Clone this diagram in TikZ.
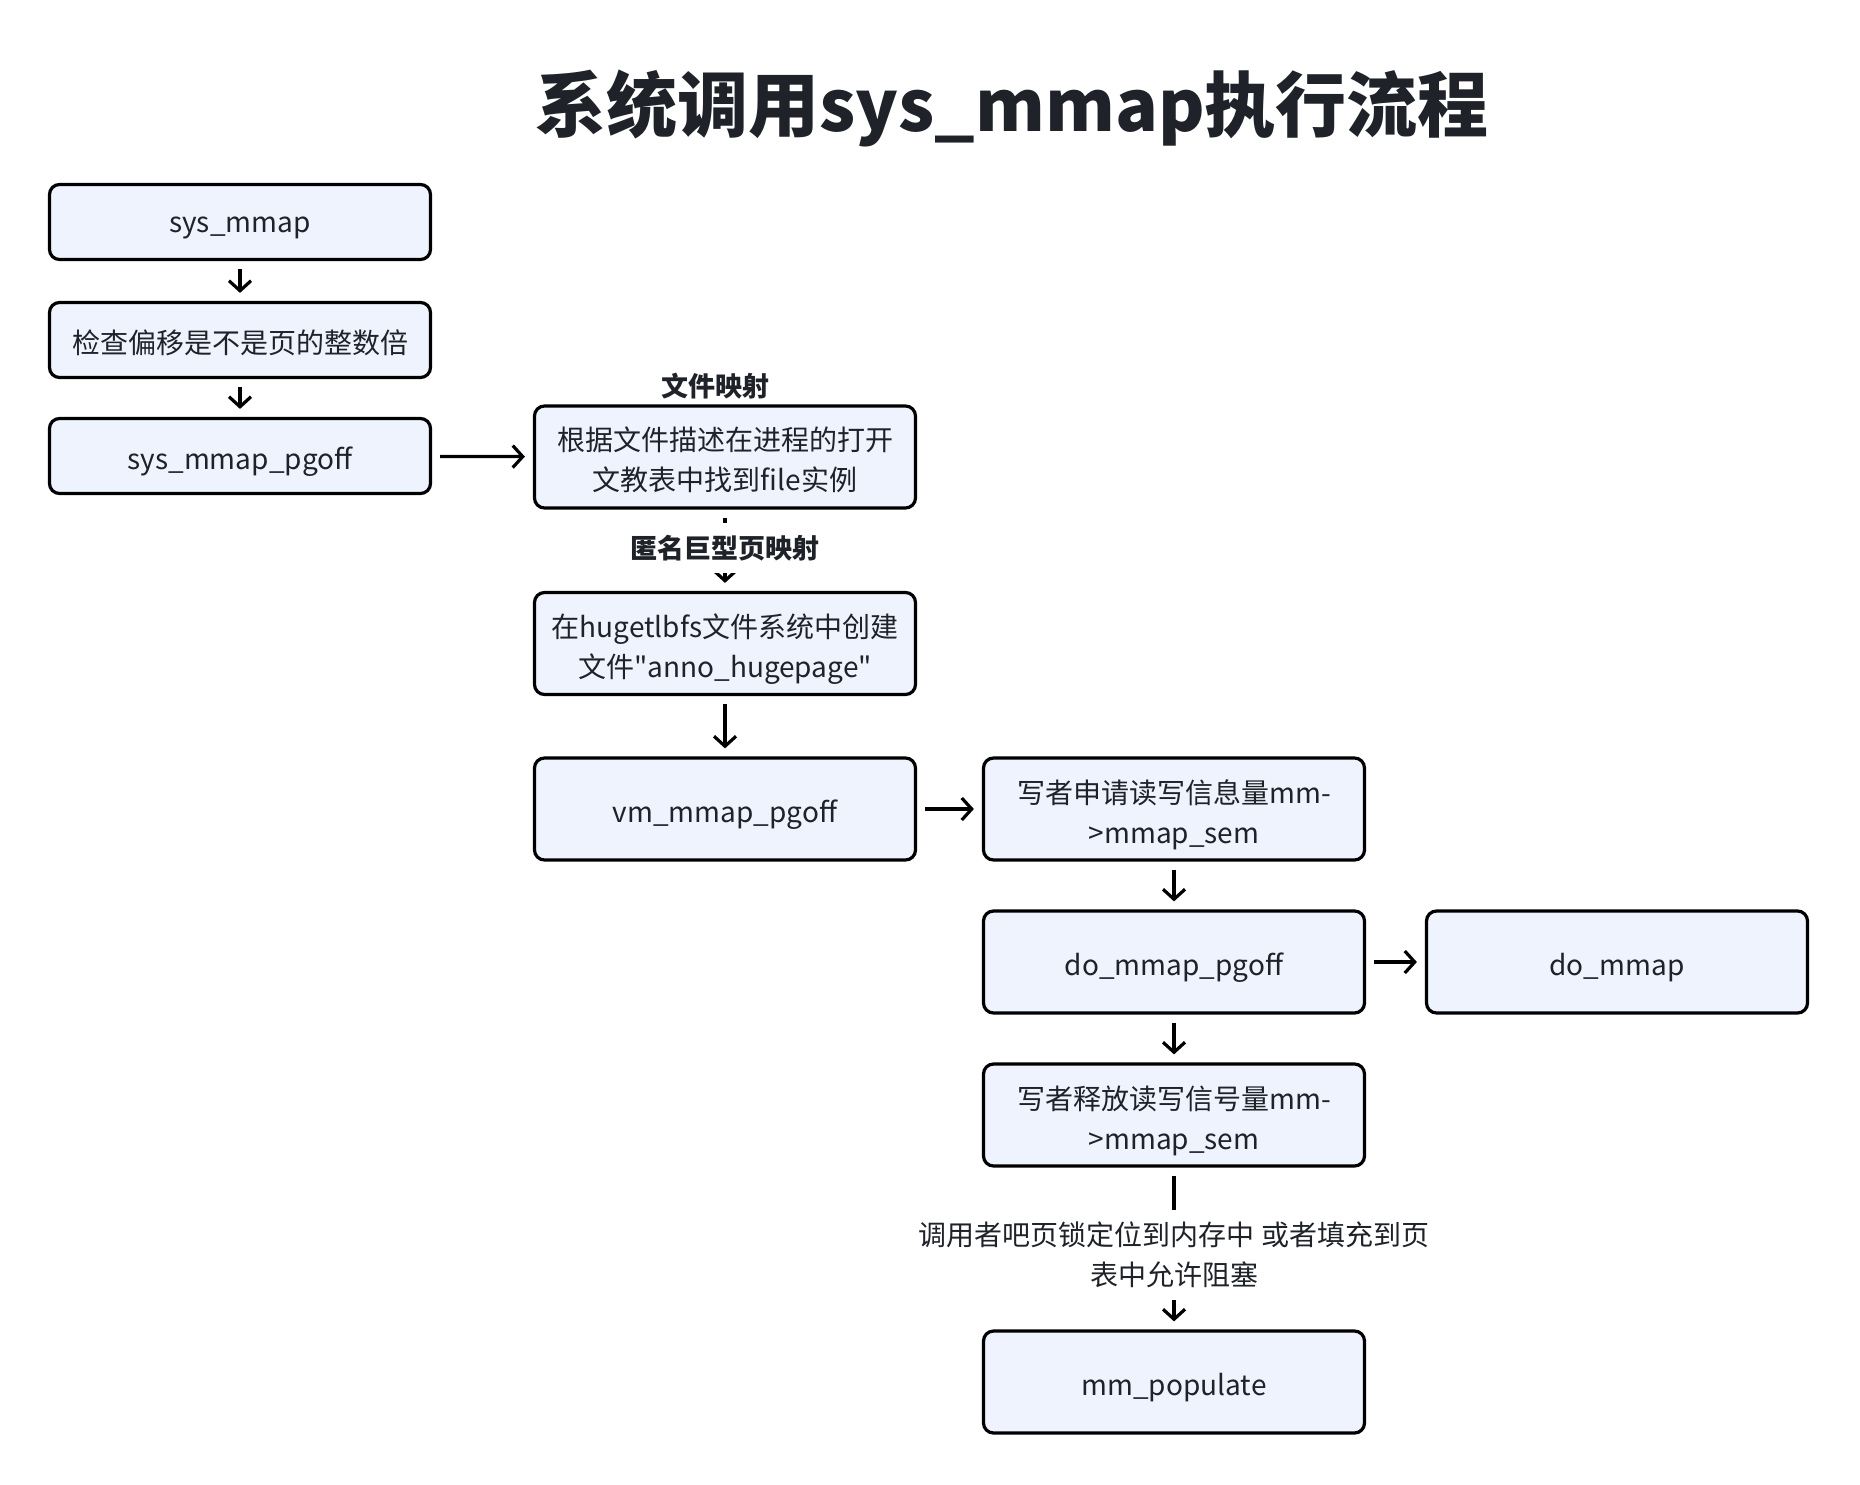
\documentclass[tikz,border=0pt]{standalone}
\usepackage{fontspec}
\setmainfont{Noto Sans CJK SC}[Ligatures=TeXOff]
\usetikzlibrary{arrows.meta}
\definecolor{boxfill}{HTML}{EEF3FD}
\definecolor{ink}{HTML}{1F2329}
\begin{document}
\begin{tikzpicture}[x=1pt,y=-1pt,
  box/.style={draw=black, line width=3.2pt, rounded corners=10pt, fill=boxfill, minimum width=381pt, inner sep=0pt},
  smallbox/.style={box, minimum height=75pt},
  tallbox/.style={box, minimum height=102pt},
  btext/.style={font=\fontsize{28}{40}\selectfont, text=ink, align=center, yshift=-6pt, inner sep=0pt},
  btextb/.style={btext, yshift=3pt},
  arr/.style={draw=black, line width=3.2pt, -{Straight Barb[length=10pt,width=22pt,line width=3.2pt]}, shorten <=8pt, shorten >=8pt},
  lab/.style={font=\fontsize{27}{36}\selectfont\bfseries, text=ink},
  elab/.style={font=\fontsize{28}{40}\selectfont, text=ink, fill=white, align=center, inner xsep=2pt, inner ysep=12pt}
]
\useasboundingbox (0,0) rectangle (1860,1484);

\node[font=\fontsize{71}{80}\selectfont\bfseries, text=ink] (title) at (1012,108) {系统调用sys\_mmap执行流程};

\node[smallbox, label={[btext]center:{sys\_mmap}}] (a) at (240,222) {};
\node[smallbox, label={[btextb]center:{检查偏移是不是页的整数倍}}] (b) at (240,340) {};
\node[smallbox, label={[btext]center:{sys\_mmap\_pgoff}}] (c) at (240,456) {};

\node[tallbox, label={[btextb]center:{根据文件描述在进程的打开\\文教表中找到file实例}}] (f) at (725,457) {};
\node[lab] (flab) at (715,386) {文件映射};
\node[tallbox, label={[btext]center:{在hugetlbfs文件系统中创建\\文件"anno\_hugepage"}}] (h) at (725,643.5) {};
\node[tallbox, label={[btext]center:{vm\_mmap\_pgoff}}] (v) at (725,809) {};

\node[tallbox, label={[btext]center:{写者申请读写信息量mm-\\>mmap\_sem}}] (w) at (1174,809) {};
\node[tallbox, label={[btext]center:{do\_mmap\_pgoff}}] (d) at (1174,962) {};
\node[tallbox, label={[btext]center:{do\_mmap}}] (dm) at (1617,962) {};
\node[tallbox, label={[btext]center:{写者释放读写信号量mm-\\>mmap\_sem}}] (r) at (1174,1115) {};
\node[tallbox, label={[btext]center:{mm\_populate}}] (p) at (1174,1382) {};

\draw[arr] (a) -- (b);
\draw[arr] (b) -- (c);
\draw[arr] (c) -- (f);
\draw[arr] (f) -- node[lab, fill=white, inner xsep=3pt, inner ysep=12pt, pos=0.47] {匿名巨型页映射} (h);
\draw[arr] (h) -- (v);
\draw[arr] (v) -- (w);
\draw[arr] (w) -- (d);
\draw[arr] (d) -- (dm);
\draw[arr] (d) -- (r);
\draw[arr] (r) -- node[elab, pos=0.54] {调用者吧页锁定位到内存中 或者填充到页\\表中允许阻塞} (p);
\end{tikzpicture}
\end{document}
